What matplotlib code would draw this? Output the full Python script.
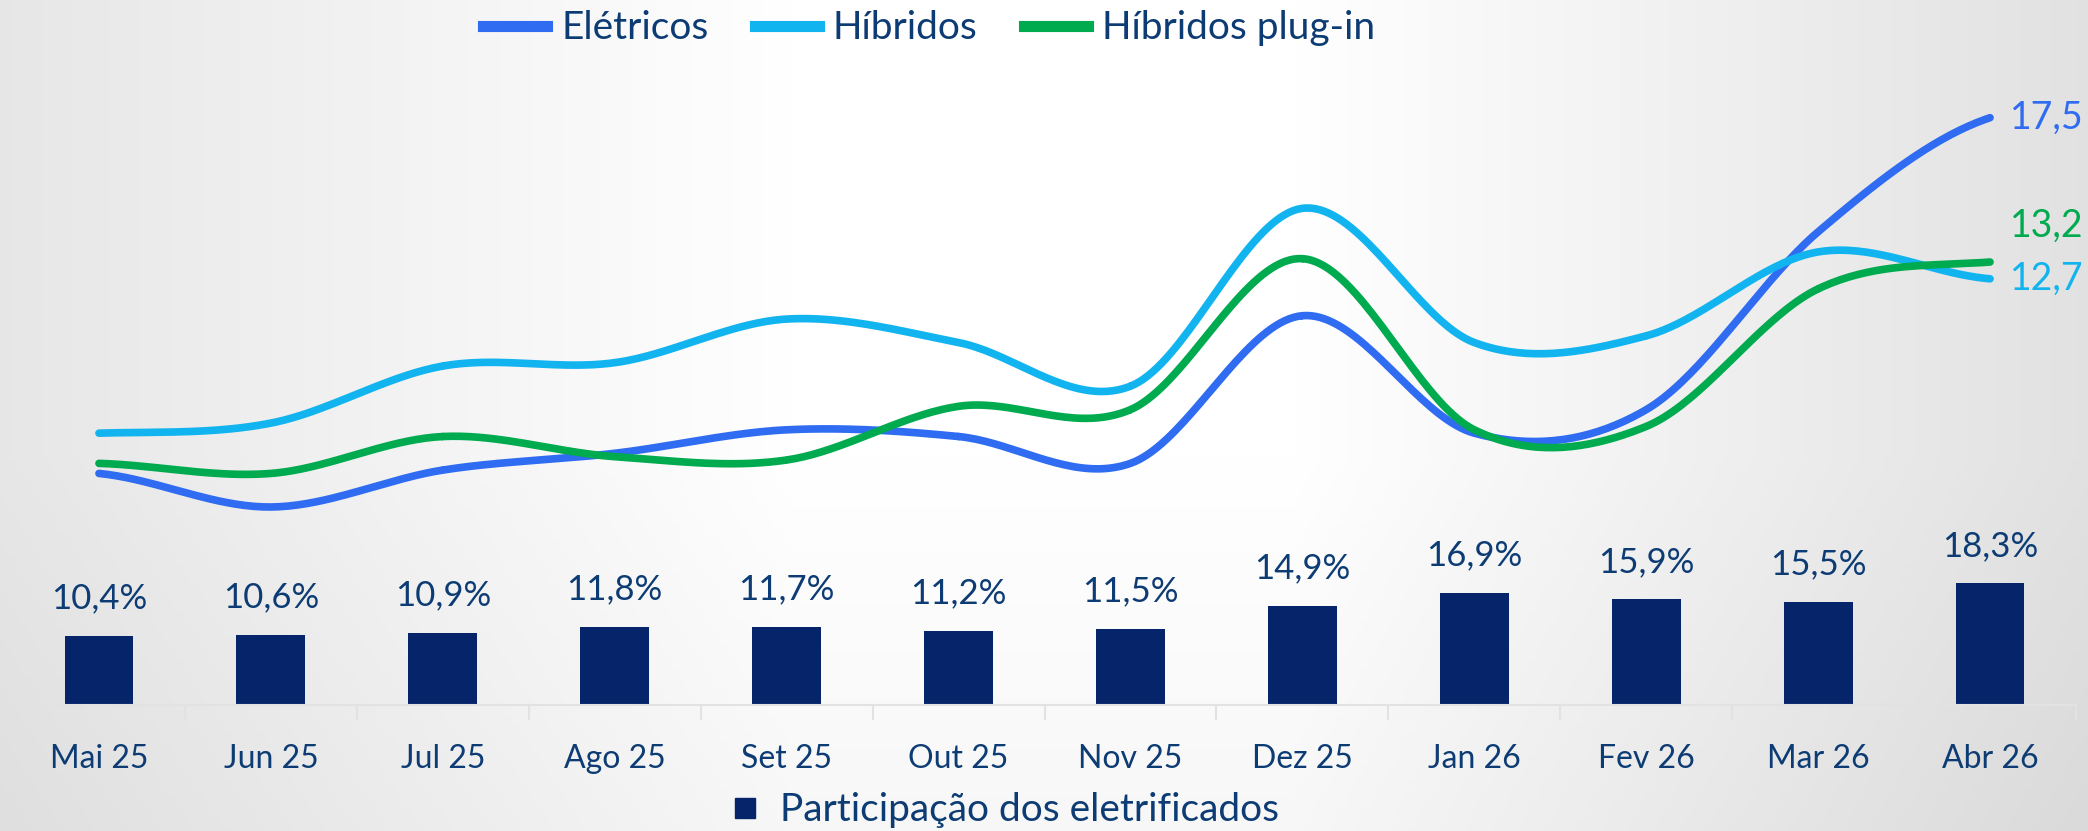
import numpy as np
import matplotlib.pyplot as plt
from matplotlib.lines import Line2D

# -----------------------------
# Data
# -----------------------------
months = ["Mai 25", "Jun 25", "Jul 25", "Ago 25", "Set 25", "Out 25",
          "Nov 25", "Dez 25", "Jan 26", "Fev 26", "Mar 26", "Abr 26"]

share = [10.4, 10.6, 10.9, 11.8, 11.7, 11.2, 11.5, 14.9, 16.9, 15.9, 15.5, 18.3]

eletricos = [6.9, 5.9, 7.0, 7.5, 8.2, 8.0, 7.2, 11.6, 8.1, 8.8, 14.1, 17.5]
hibridos = [8.1, 8.4, 10.1, 10.2, 11.5, 10.8, 9.5, 14.8, 10.8, 11.0, 13.5, 12.7]
plugin = [7.2, 6.9, 8.0, 7.4, 7.3, 8.9, 8.8, 13.3, 8.2, 8.3, 12.4, 13.2]

series_names = ["Elétricos", "Híbridos", "Híbridos plug-in"]
series_vals = [eletricos, hibridos, plugin]
series_colors = ["#2F6CF2", "#12B4F0", "#00AA4F"]
# vertical shift (points) of the end labels
end_shift = [0, 0, 26]

BAR_COLOR = "#06246A"
TEXT_COLOR = "#0D3C74"

plt.rcParams["font.family"] = ["Lato", "DejaVu Sans"]


# -----------------------------
# Smooth curve (Catmull-Rom) for drawing only
# -----------------------------
def smooth(xs, ys, n=40):
    xs = np.asarray(xs, float)
    ys = np.asarray(ys, float)
    px = np.concatenate([[2 * xs[0] - xs[1]], xs, [2 * xs[-1] - xs[-2]]])
    py = np.concatenate([[ys[0]], ys, [ys[-1]]])
    out_x, out_y = [], []
    t = np.linspace(0, 1, n)
    for i in range(1, len(px) - 2):
        p0, p1, p2, p3 = py[i - 1], py[i], py[i + 1], py[i + 2]
        q0, q1, q2, q3 = px[i - 1], px[i], px[i + 1], px[i + 2]
        for a, b, c, d, store in ((q0, q1, q2, q3, out_x), (p0, p1, p2, p3, out_y)):
            v = 0.5 * ((2 * b) + (-a + c) * t
                       + (2 * a - 5 * b + 4 * c - d) * t ** 2
                       + (-a + 3 * b - 3 * c + d) * t ** 3)
            store.extend(v)
    return np.array(out_x), np.array(out_y)


# -----------------------------
# Figure + background gradient
# -----------------------------
W, H = 2088, 831
fig = plt.figure(figsize=(W / 100, H / 100), dpi=100)

bg = fig.add_axes([0, 0, 1, 1])
gx = np.linspace(0, 1, 400)
gy = np.linspace(0, 1, 200)
hx = np.interp(gx, [0, 0.38, 0.62, 1], [0.905, 1.0, 1.0, 0.885])
vy = np.interp(gy, [0, 0.55, 1], [0.0, 0.0, 0.03])
grad = np.clip(hx[None, :] - vy[:, None], 0, 1)
bg.imshow(np.dstack([grad, grad, grad]), aspect="auto", extent=[0, 1, 0, 1])
bg.axis("off")

# -----------------------------
# Bars
# -----------------------------
x = np.arange(len(months))
ax_h = 685
ax = fig.add_axes([13 / W, (H - 705) / H, 2063 / W, ax_h / H])
ax.patch.set_alpha(0)

ax.bar(x, share, width=0.4, color=BAR_COLOR, zorder=2)
ax.set_xlim(-0.5, len(months) - 0.5)
ax.set_ylim(0, ax_h / 6.65)

for xi, v in zip(x, share):
    ax.annotate(f"{v:.1f}%".replace(".", ","), (xi, v),
                xytext=(0, 27), textcoords="offset points",
                ha="center", va="center", fontsize=25, color=TEXT_COLOR)

ax.set_xticks(x)
ax.set_xticklabels(months, fontsize=23, color=TEXT_COLOR)
ax.set_xticks(np.arange(-0.5, len(months)), minor=True)
ax.tick_params(axis="x", which="major", length=0, pad=28)
ax.tick_params(axis="x", which="minor", length=11, width=1.5,
               color="#e2e2e2")
ax.set_yticks([])
for s in ["top", "left", "right"]:
    ax.spines[s].set_visible(False)
ax.spines["bottom"].set_color("#e2e2e2")
ax.spines["bottom"].set_linewidth(1.5)

# -----------------------------
# Lines
# -----------------------------
ax2 = ax.twinx()
ax2.set_ylim(0, ax_h / 33.56)
ax2.set_yticks([])
for s in ax2.spines.values():
    s.set_visible(False)

for name, vals, col, dy in zip(series_names, series_vals, series_colors, end_shift):
    sx, sy = smooth(x, vals)
    ax2.plot(sx, sy, color=col, lw=5.5, solid_capstyle="round", zorder=3)
    ax2.annotate(f"{vals[-1]:.1f}".replace(".", ","), (x[-1], vals[-1]),
                 xytext=(14, dy), textcoords="offset points",
                 ha="left", va="center", fontsize=27, color=col)

# -----------------------------
# Legends
# -----------------------------
handles = [Line2D([], [], color=c, lw=8) for c in series_colors]
fig.legend(handles, series_names, loc="center", ncol=3,
           bbox_to_anchor=(0.445, 0.966), frameon=False,
           fontsize=28, labelcolor=TEXT_COLOR, handlelength=1.65,
           handletextpad=0.35, columnspacing=1.2)

sq = [Line2D([], [], color=BAR_COLOR, marker="s", ls="none", markersize=14)]
fig.legend(sq, ["Participação dos eletrificados"], loc="center",
           bbox_to_anchor=(0.481, 0.025), frameon=False, fontsize=28,
           labelcolor=TEXT_COLOR, handlelength=0.8, handletextpad=0.5)

fig.savefig("out.png", dpi=100)
plt.close(fig)
